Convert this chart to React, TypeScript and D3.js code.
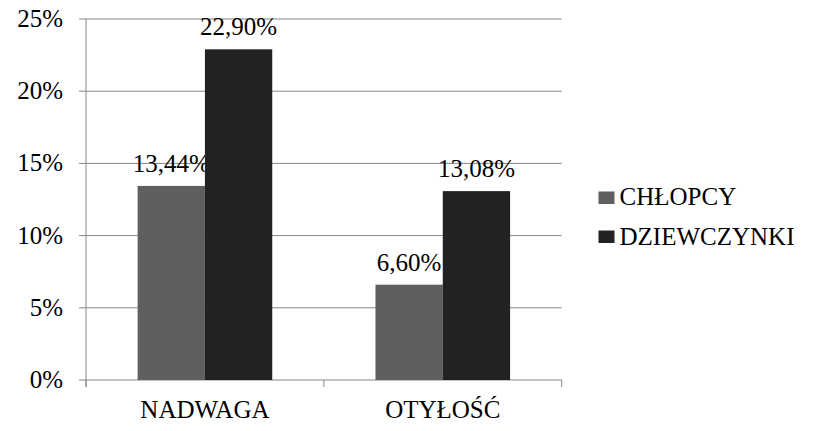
import React from "react";
import * as d3 from "d3";

const categories = ["NADWAGA", "OTYŁOŚĆ"];
const seriesNames = ["CHŁOPCY", "DZIEWCZYNKI"];
const chlopcy = [13.44, 6.6];
const dziewczynki = [22.9, 13.08];
const yTicks = [0, 5, 10, 15, 20, 25];
const colors = ["#5f5f5f", "#222222"];

const W = 817;
const H = 431;

function SText({ x, y, anchor, children }: any) {
  return (
    <text
      x={x}
      y={y}
      textAnchor={anchor}
      fill="#000"
      style={{ fontFamily: "Liberation Serif", fontSize: "25px" }}
    >
      {children}
    </text>
  );
}

export default function App() {
  const left = 86;
  const right = 561.7;
  const top = 19;
  const bottom = 380;
  const y = d3.scaleLinear().domain([0, 25]).range([bottom, top]);
  const x0 = d3.scaleBand().domain(categories).range([left, right]).paddingInner(0).paddingOuter(0);
  const inner = 0.566;
  const x1 = d3
    .scaleBand()
    .domain(seriesNames)
    .range([(x0.bandwidth() * (1 - inner)) / 2, (x0.bandwidth() * (1 + inner)) / 2]);
  const series = [chlopcy, dziewczynki];
  const fmt = (v: number) => v.toFixed(2).replace(".", ",") + "%";
  const axisColor = "#868686";

  return (
    <svg
      width={W}
      height={H}
      style={{ position: "absolute", left: 0, top: 0, background: "#fff" }}
    >
      {yTicks.map((t) => (
        <g key={t}>
          <line x1={left - 7} x2={right} y1={y(t)} y2={y(t)} stroke={axisColor} strokeWidth={1} />
          <SText x={63} y={y(t) + 8} anchor="end">
            {t + "%"}
          </SText>
        </g>
      ))}
      <line x1={left} x2={left} y1={top} y2={bottom + 7} stroke={axisColor} strokeWidth={1} />
      {[...categories.map((c) => x0(c)!), right].map((xv, i) => (
        <line key={i} x1={xv} x2={xv} y1={bottom} y2={bottom + 7} stroke={axisColor} strokeWidth={1} />
      ))}
      {categories.map((c, ci) =>
        series.map((s, si) => {
          const bx = x0(c)! + x1(seriesNames[si])!;
          const bw = x1.bandwidth();
          return (
            <g key={c + si}>
              <rect x={bx} y={y(s[ci])} width={bw} height={bottom - y(s[ci])} fill={colors[si]} />
              <SText x={bx + bw / 2} y={y(s[ci]) - 14} anchor="middle">
                {fmt(s[ci])}
              </SText>
            </g>
          );
        })
      )}
      {categories.map((c) => (
        <SText key={c} x={x0(c)! + x0.bandwidth() / 2} y={418} anchor="middle">
          {c}
        </SText>
      ))}
      {seriesNames.map((n, i) => (
        <g key={n}>
          <rect x={598.5} y={i === 0 ? 191.5 : 230.5} width={16} height={12.5} fill={colors[i]} />
          <SText x={619.5} y={i === 0 ? 205 : 244.5} anchor="start">
            {n}
          </SText>
        </g>
      ))}
    </svg>
  );
}
